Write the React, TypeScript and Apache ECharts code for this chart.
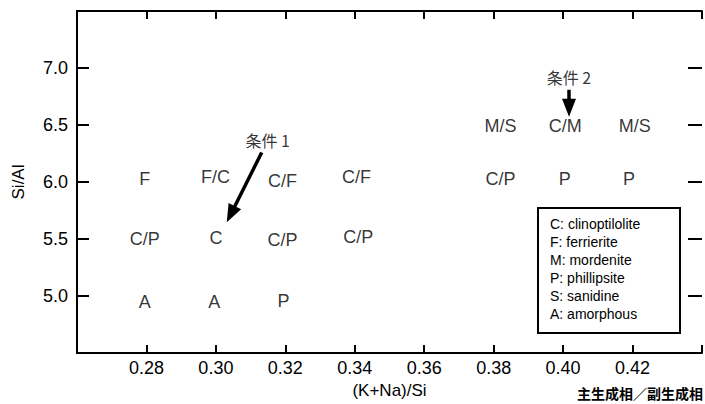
import React, { useEffect, useRef } from "react";
import * as echarts from "echarts";

// Data
const pointLabels = ["F", "F/C", "C/F", "C/F", "C/P", "P", "P", "M/S", "C/M", "M/S", "C/P", "C", "C/P", "C/P", "A", "A", "P"];
const pointX = [0.2795, 0.2999, 0.3192, 0.3405, 0.382, 0.4005, 0.419, 0.382, 0.4006, 0.4206, 0.2795, 0.3, 0.3192, 0.341, 0.2795, 0.2995, 0.3195];
const pointY = [6.03, 6.04, 6.01, 6.04, 6.03, 6.03, 6.03, 6.49, 6.49, 6.49, 5.5, 5.51, 5.49, 5.52, 4.95, 4.95, 4.96];

const xTicks = [0.28, 0.3, 0.32, 0.34, 0.36, 0.38, 0.4, 0.42];
const yTicks = [5.0, 5.5, 6.0, 6.5, 7.0];

const noteLabels = ["条件 1", "条件 2"];
const noteX = [0.3149, 0.4017];
const noteY = [6.372, 6.923];

const arrowFrom: [number, number][] = [[0.3132, 6.259], [0.4017, 6.809]];
const arrowTo: [number, number][] = [[0.3043, 5.717], [0.4017, 6.652]];

const legendLines = ["C: clinoptilolite", "F: ferrierite", "M: mordenite", "P: phillipsite", "S: sanidine", "A: amorphous"];

const FONT = "'Liberation Sans', Arial, Helvetica, sans-serif";
const CJK = "'Noto Sans CJK JP', 'Noto Sans CJK SC', sans-serif";

export default function App() {
  const ref = useRef<HTMLDivElement>(null);
  useEffect(() => {
    document.body.style.margin = "0";
    if (!ref.current) return;
    const chart = echarts.init(ref.current, undefined, { renderer: "svg" });
    const axisLineStyle = { color: "#000", width: 2 };
    const near = (v: number, arr: number[]) => arr.some((t) => Math.abs(t - v) < 1e-6);
    chart.setOption({
      animation: false,
      backgroundColor: "#fff",
      grid: { left: 77, right: 2, top: 11, bottom: 49 },
      xAxis: [
        {
          type: "value",
          min: 0.26,
          max: 0.44,
          interval: 0.02,
          position: "bottom",
          axisLine: { lineStyle: axisLineStyle },
          axisTick: { inside: true, length: 8, lineStyle: axisLineStyle },
          axisLabel: {
            margin: 6,
            color: "#000",
            fontSize: 18,
            fontFamily: FONT,
            formatter: (v: number) => (near(v, xTicks) ? v.toFixed(2) : ""),
          },
          splitLine: { show: false },
          name: "(K+Na)/Si",
          nameLocation: "middle",
          nameGap: 29,
          nameTextStyle: { color: "#000", fontSize: 17, fontFamily: FONT },
        },
        {
          type: "value",
          min: 0.26,
          max: 0.44,
          interval: 0.02,
          position: "top",
          axisLine: { lineStyle: axisLineStyle },
          axisTick: { inside: true, length: 8, lineStyle: axisLineStyle },
          axisLabel: { show: false },
          splitLine: { show: false },
        },
      ],
      yAxis: [
        {
          type: "value",
          min: 4.5,
          max: 7.5,
          interval: 0.5,
          position: "left",
          axisLine: { show: true, lineStyle: axisLineStyle },
          axisTick: { inside: true, length: 12, lineStyle: axisLineStyle },
          axisLabel: {
            margin: 9,
            color: "#000",
            fontSize: 18,
            fontFamily: FONT,
            formatter: (v: number) => (near(v, yTicks) ? v.toFixed(1) : ""),
          },
          splitLine: { show: false },
          name: "Si/Al",
          nameLocation: "middle",
          nameGap: 50,
          nameRotate: 90,
          nameTextStyle: { color: "#000", fontSize: 17, fontFamily: FONT },
        },
        {
          type: "value",
          min: 4.5,
          max: 7.5,
          interval: 0.5,
          position: "right",
          axisLine: { show: false },
          axisTick: { show: true, inside: true, length: 14, lineStyle: axisLineStyle },
          axisLabel: { show: false },
          splitLine: { show: false },
        },
      ],
      series: [
        {
          type: "scatter",
          symbolSize: 0,
          data: pointLabels.map((l, i) => ({ value: [pointX[i], pointY[i]], name: l })),
          label: {
            show: true,
            position: "inside",
            formatter: (p: any) => p.name,
            color: "#000",
            fontSize: 18,
            fontFamily: FONT,
          },
          markLine: {
            silent: true,
            symbol: ["none", "triangle"],
            symbolSize: [14, 18],
            label: { show: false },
            lineStyle: { color: "#000", width: 3.5, type: "solid" },
            data: arrowFrom.map((f, i) => [{ coord: f }, { coord: arrowTo[i] }]),
          },
        },
        {
          type: "scatter",
          symbolSize: 0,
          data: noteLabels.map((l, i) => ({ value: [noteX[i], noteY[i]], name: l })),
          label: {
            show: true,
            position: "inside",
            formatter: (p: any) => p.name,
            color: "#000",
            fontSize: 16,
            fontFamily: CJK,
          },
        },
      ],
      graphic: [
        {
          type: "rect",
          left: 537,
          top: 207,
          shape: { width: 142, height: 125 },
          style: { fill: "#fff", stroke: "#000", lineWidth: 2 },
          z: 10,
        },
        {
          type: "text",
          left: 550,
          top: 215,
          z: 11,
          style: {
            text: legendLines.join("\n"),
            fill: "#000",
            font: `14px ${FONT}`,
            lineHeight: 18,
          },
        },
        {
          type: "text",
          right: 2,
          top: 386,
          style: {
            text: "主生成相／副生成相",
            fill: "#000",
            font: `bold 14px ${CJK}`,
          },
        },
      ],
    });
    return () => chart.dispose();
  }, []);
  return <div ref={ref} style={{ width: 705, height: 404 }} />;
}
